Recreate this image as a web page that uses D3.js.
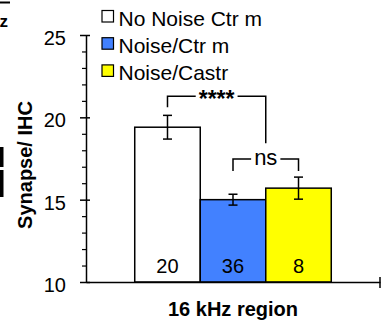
<!DOCTYPE html>
<html>
<head>
<meta charset="utf-8">
<script src="https://cdn.jsdelivr.net/npm/d3@7/dist/d3.min.js"></script>
<style>
  html, body { margin: 0; padding: 0; background: #fff; }
  svg { display: block; }
  text { font-family: "Liberation Sans", Arial, Helvetica, sans-serif; fill: #000; }
</style>
</head>
<body>
<svg id="chart" width="384" height="320"></svg>
<script>
// Synapse counts per inner hair cell, 16 kHz region
const groups = ["16 kHz region"];
const series = ["No Noise Ctr m", "Noise/Ctr m", "Noise/Castr"];
const means = [19.4, 15.0, 15.7];
const sems = [0.72, 0.33, 0.67];
const counts = [20, 36, 8];
const colors = ["#FFFFFF", "#4281FF", "#FFFF00"];
const yTicks = [10, 15, 20, 25];
const yMinorTicks = [11, 12, 13, 14, 16, 17, 18, 19, 21, 22, 23, 24];
const sigLabels = ["****", "ns"];
const yTitle = "Synapse/ IHC";

const svg = d3.select("#chart");
const font = 20;

const y = d3.scaleLinear().domain([10, 25]).range([282, 35]);
const xGroup = d3.scaleBand().domain(groups).range([86, 380]).paddingInner(0).paddingOuter(0.248);
const xInner = d3.scaleBand().domain(series).range([0, xGroup.bandwidth()]).padding(0);

// edge of the neighbouring panel, cut off at the left border
svg.append("line").attr("x1", 0).attr("x2", 10).attr("y1", 2.5).attr("y2", 2.5)
  .attr("stroke", "#000").attr("stroke-width", 2);
svg.append("text").attr("x", 8).attr("y", 27).attr("text-anchor", "end")
  .attr("font-size", 17).attr("font-weight", "bold").text("z");
svg.append("path").attr("d", "M0,147h3.5v20h-3.5z M0,170h3.5v27h-3.5z").attr("fill", "#000");

// bars
const g = svg.append("g").attr("transform", `translate(${xGroup(groups[0])},0)`);
g.selectAll("rect.bar").data(series).join("rect").attr("class", "bar")
  .attr("x", d => xInner(d))
  .attr("y", (d, i) => y(means[i]))
  .attr("width", xInner.bandwidth())
  .attr("height", (d, i) => y(10) - y(means[i]))
  .attr("fill", (d, i) => colors[i])
  .attr("stroke", "#000").attr("stroke-width", 1.5);

// error bars
const cx = d => xInner(d) + xInner.bandwidth() / 2;
const eb = g.selectAll("g.err").data(series).join("g").attr("class", "err")
  .attr("stroke", "#000").attr("stroke-width", 1.5);
eb.append("line").attr("x1", cx).attr("x2", cx)
  .attr("y1", (d, i) => y(means[i] + sems[i])).attr("y2", (d, i) => y(means[i] - sems[i]));
eb.append("line").attr("x1", d => cx(d) - 4.5).attr("x2", d => cx(d) + 4.5)
  .attr("y1", (d, i) => y(means[i] + sems[i])).attr("y2", (d, i) => y(means[i] + sems[i]));
eb.append("line").attr("x1", d => cx(d) - 4.5).attr("x2", d => cx(d) + 4.5)
  .attr("y1", (d, i) => y(means[i] - sems[i])).attr("y2", (d, i) => y(means[i] - sems[i]));

// n per group
g.selectAll("text.n").data(series).join("text").attr("class", "n")
  .attr("x", cx).attr("y", 273).attr("text-anchor", "middle")
  .attr("font-size", font).text((d, i) => counts[i]);

// significance brackets
function bracket(x1, x2, top, leftEnd, rightEnd, label, size, base, weight) {
  const b = g.append("g");
  b.append("path")
    .attr("d", `M${x1},${leftEnd}V${top}H${x2}V${rightEnd}`)
    .attr("fill", "none").attr("stroke", "#000").attr("stroke-width", 1.5);
  const t = b.append("text").attr("x", (x1 + x2) / 2).attr("y", top + base)
    .attr("text-anchor", "middle").attr("font-size", size).attr("font-weight", weight).text(label);
  const bb = t.node().getBBox();
  b.insert("rect", "text").attr("x", bb.x - 3).attr("y", top - 3)
    .attr("width", bb.width + 6).attr("height", 6).attr("fill", "#fff");
}
const top0 = y(means[0] + sems[0]) - 19;
bracket(cx(series[0]), xInner(series[2]), top0, y(means[0] + sems[0]) - 8, top0 + 47, sigLabels[0], 23, 11, "bold");
const top1 = y(means[2] + sems[2]) - 18;
bracket(cx(series[1]), cx(series[2]), top1, top1 + 12, top1 + 12, sigLabels[1], 22, 6, "normal");

// y axis: major and minor ticks
const yAxis = svg.append("g").attr("transform", "translate(86,0)")
  .call(d3.axisLeft(y).tickValues(yTicks).tickSize(6).tickSizeOuter(0).tickPadding(20));
yAxis.select(".domain").attr("stroke-width", 1.5);
yAxis.selectAll(".tick line").attr("x2", -6).attr("x1", 4).attr("stroke-width", 1.5);
yAxis.selectAll(".tick text").attr("font-size", font).attr("font-family", null)
  .attr("x", -20).attr("dy", "0.47em");
const yMinor = svg.append("g").attr("transform", "translate(86,0)")
  .call(d3.axisLeft(y).tickValues(yMinorTicks).tickSize(4).tickFormat(""));
yMinor.select(".domain").remove();
yMinor.selectAll(".tick line").attr("stroke-width", 1.2);

// x axis
const xAxis = svg.append("g").attr("transform", `translate(0,${y(10)})`)
  .call(d3.axisBottom(xGroup).tickValues([]).tickSizeOuter(0));
xAxis.select(".domain").attr("stroke-width", 1.5);
xAxis.append("line").attr("x1", xGroup.range()[1]).attr("x2", xGroup.range()[1])
  .attr("y1", -5).attr("y2", 6).attr("stroke", "#000").attr("stroke-width", 1.5);

// axis titles
svg.append("text").attr("x", xGroup(groups[0]) + xGroup.bandwidth() / 2).attr("y", 315.5)
  .attr("text-anchor", "middle").attr("font-size", font).attr("font-weight", "bold").text(groups[0]);
svg.append("text").attr("transform", "translate(31.5,165) rotate(-90)")
  .attr("text-anchor", "middle").attr("font-size", font).attr("font-weight", "bold").text(yTitle);

// legend
const leg = svg.selectAll("g.leg").data(series).join("g").attr("class", "leg")
  .attr("transform", (d, i) => `translate(102,${26 + i * 27.2})`);
leg.append("rect").attr("x", 0).attr("y", -15.5).attr("width", 11.5).attr("height", 11.5)
  .attr("fill", (d, i) => colors[i]).attr("stroke", "#000").attr("stroke-width", 1.2);
leg.append("text").attr("x", 16.5).attr("y", 0).attr("font-size", 21).text(d => d);
</script>
</body>
</html>
